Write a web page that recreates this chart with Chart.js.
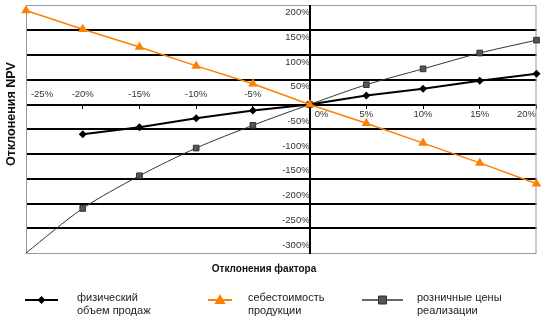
<!DOCTYPE html>
<html><head><meta charset="utf-8">
<script src="https://cdn.jsdelivr.net/npm/chart.js@4/dist/chart.umd.min.js"></script>
<style>html,body{margin:0;padding:0;background:#fff}#wrap{width:542px;height:321px}</style>
</head><body><div id="wrap"><canvas id="c" width="542" height="321"></canvas></div>
<script>
// ---- data ----
const factorDeviations = [-25, -20, -15, -10, -5, 0, 5, 10, 15, 20];
const salesVolume      = [null, -60, -46, -28, -12, 0, 18, 32, 48, 62];
const productionCost   = [190, 152, 116, 78, 42, 0, -38, -78, -118, -160];
const retailPrices     = [-300, -210, -144, -88, -42, 0, 40, 72, 104, 130];
const yTickMin = -300, yTickMax = 200, yTickStep = 50;
const xTickMin = -25, xTickMax = 20, xTickStep = 5;
const seriesNames = [
  ['физический', 'объем продаж'],
  ['себестоимость', 'продукции'],
  ['розничные цены', 'реализации']
];
const xTitle = 'Отклонения фактора';
const yTitle = 'Отклонения NPV';

// ---- styles ----
const FONT = '"Liberation Sans", Arial, Helvetica, sans-serif';
const cBlack = '#000000', cOrange = '#ff8000', cGrey = '#555555', cGreyLine = '#333333';
const retailRadius = retailPrices.map((v, i) => i === 0 ? 0 : 4);

const pts = arr => factorDeviations.map((x, i) => ({x, y: arr[i]}));
const noPad = s => { s.paddingLeft = 0; s.paddingRight = 0; s.paddingTop = 0; s.paddingBottom = 0; };

function xAxis(filter, padding, labelOffset) {
  return {
    type: 'linear', axis: 'x', min: xTickMin, max: xTickMax,
    position: {y: 0},
    afterFit: s => { s.height = 0; noPad(s); },
    border: {display: false},
    grid: {display: false, drawTicks: false},
    ticks: {
      stepSize: xTickStep, autoSkip: false, maxRotation: 0,
      color: '#333', font: {family: FONT, size: 9.5},
      padding: padding, labelOffset: labelOffset,
      callback: v => filter(v) ? v + '%' : ''
    }
  };
}

const xPos = xAxis(v => v > 0 && v < xTickMax, 4, 0);
const xLast = xAxis(v => v === xTickMax, 4, -10);
const xZero = xAxis(v => v === 0, 4, 12);
const xNeg = xAxis(v => v < 0 && v > xTickMin, -20, 0);
xNeg.grid = {display: true, drawOnChartArea: false, drawTicks: true, tickLength: 4, color: '#000', lineWidth: 1};
const xFirst = xAxis(v => v === xTickMin, -16, 16);

function yAxis(filter, labelOffset, main) {
  return {
    type: 'linear', axis: 'y', min: yTickMin, max: yTickMax,
    position: {x: 0},
    afterFit: s => { s.width = 0; noPad(s); },
    border: main ? {display: true, color: '#000', width: 2} : {display: false},
    grid: main ? {
      drawTicks: false,
      color: c => (c.tick && (c.tick.value === yTickMax || c.tick.value === yTickMin)) ? '#999' : '#000',
      lineWidth: c => (c.tick && (c.tick.value === yTickMax || c.tick.value === yTickMin)) ? 1 : 2
    } : {display: false, drawTicks: false},
    ticks: {
      stepSize: yTickStep, color: '#333', font: {family: FONT, size: 9.5},
      padding: 2, labelOffset: labelOffset,
      callback: v => filter(v) ? v + '%' : ''
    }
  };
}

const edgePlugin = {
  id: 'edges',
  beforeDatasetsDraw(chart) {
    const {ctx, chartArea: a} = chart;
    ctx.save();
    ctx.strokeStyle = '#999'; ctx.lineWidth = 1;
    ctx.beginPath();
    ctx.moveTo(a.left + 0.5, a.top); ctx.lineTo(a.left + 0.5, a.bottom);
    ctx.moveTo(a.right - 0.5, a.top); ctx.lineTo(a.right - 0.5, a.bottom);
    ctx.stroke();
    ctx.restore();
  },
  afterDraw(chart) {
    const ctx = chart.ctx;
    ctx.save();
    // titles
    ctx.fillStyle = '#111';
    ctx.font = 'bold 10px ' + FONT;
    ctx.textAlign = 'center'; ctx.textBaseline = 'middle';
    ctx.fillText(xTitle, 264, 269);
    ctx.save();
    ctx.translate(12, 114); ctx.rotate(-Math.PI / 2);
    ctx.font = 'bold 12.5px ' + FONT;
    ctx.fillText(yTitle, 0, 0);
    ctx.restore();
    // legend
    const items = [
      {x1: 25, x2: 58, tx: 77, color: cBlack, lw: 2, mark: 'diamond', mc: cBlack},
      {x1: 208, x2: 232, tx: 248, color: cOrange, lw: 2, mark: 'triangle', mc: cOrange},
      {x1: 362, x2: 403, tx: 417, color: cGreyLine, lw: 1.5, mark: 'square', mc: cGrey}
    ];
    const ly = 300;
    items.forEach((it, i) => {
      ctx.strokeStyle = it.color; ctx.lineWidth = it.lw;
      ctx.beginPath(); ctx.moveTo(it.x1, ly); ctx.lineTo(it.x2, ly); ctx.stroke();
      const cx = (it.x1 + it.x2) / 2;
      ctx.fillStyle = it.mc;
      ctx.beginPath();
      if (it.mark === 'diamond') {
        ctx.moveTo(cx, ly - 4); ctx.lineTo(cx + 4, ly); ctx.lineTo(cx, ly + 4); ctx.lineTo(cx - 4, ly);
      } else if (it.mark === 'triangle') {
        ctx.moveTo(cx, ly - 6); ctx.lineTo(cx + 5.5, ly + 4); ctx.lineTo(cx - 5.5, ly + 4);
      } else {
        ctx.rect(cx - 4, ly - 4, 8, 8);
      }
      ctx.closePath(); ctx.fill();
      if (it.mark === 'square') { ctx.strokeStyle = '#333'; ctx.lineWidth = 1; ctx.stroke(); }
      ctx.fillStyle = '#222';
      ctx.font = '11px ' + FONT;
      ctx.textAlign = 'left'; ctx.textBaseline = 'middle';
      ctx.fillText(seriesNames[i][0], it.tx, 298);
      ctx.fillText(seriesNames[i][1], it.tx, 311);
    });
    ctx.restore();
  }
};

new Chart(document.getElementById('c'), {
  type: 'line',
  data: {
    datasets: [
      {label: seriesNames[1].join(' '), data: pts(productionCost), order: 0,
       borderColor: cOrange, backgroundColor: cOrange, borderWidth: 1.5,
       pointStyle: 'triangle', pointRadius: 5.5, pointBorderWidth: 0, tension: 0, clip: false},
      {label: seriesNames[0].join(' '), data: pts(salesVolume), order: 1,
       borderColor: cBlack, backgroundColor: cBlack, borderWidth: 2,
       pointStyle: 'rectRot', pointRadius: 4, pointBorderWidth: 0, tension: 0, clip: false},
      {label: seriesNames[2].join(' '), data: pts(retailPrices), order: 2,
       borderColor: cGreyLine, backgroundColor: cGrey, borderWidth: 1,
       pointStyle: 'rect', pointRadius: retailRadius, pointBorderColor: '#333', pointBorderWidth: 1,
       tension: 0.3, clip: false}
    ]
  },
  options: {
    responsive: false, animation: false, devicePixelRatio: 1,
    layout: {padding: {left: 26, right: 4, top: 3, bottom: 68}},
    plugins: {legend: {display: false}, tooltip: {enabled: false}},
    scales: {
      x: xPos, xLast: xLast, xZero: xZero, xNeg: xNeg, xFirst: xFirst,
      y: yAxis(v => v > 0, 7, true),
      yNeg: yAxis(v => v < 0, -8, false)
    }
  },
  plugins: [edgePlugin]
});
</script>
</body></html>
